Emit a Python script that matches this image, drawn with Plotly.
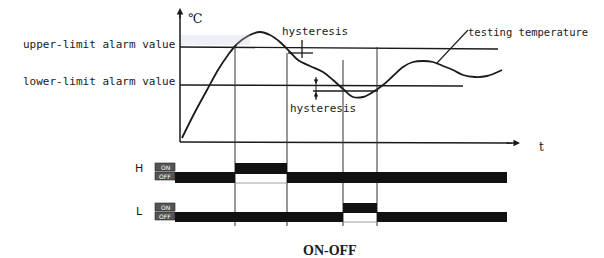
import plotly.graph_objects as go

# ---- data (diagram units: time ~ px across, temperature ~ px down) ----
curve_t = [182, 195, 207, 218, 228, 237, 248, 260, 270, 280, 290, 298, 310, 323, 333,
           343, 353, 363, 373, 383, 393, 403, 413, 423, 433, 443, 453, 463, 475, 487, 502]
curve_temp = [138, 112, 90, 70, 55, 44, 36, 32, 35, 42, 52, 60, 66, 72, 80,
              89, 97, 97, 92, 85, 76, 67, 62, 61, 62, 66, 70, 75, 77, 76, 70]
upper_limit = 47
upper_hyst = 53
lower_limit = 85
lower_hyst = 91
switch_times = [235, 287, 343, 377]
switch_tops = [47, 53, 60, 47]
h_states = [0, 1, 0]          # OFF, ON, OFF
h_edges = [175, 235, 287, 507]
l_states = [0, 1, 0]
l_edges = [175, 343, 377, 507]
left_labels = ["upper-limit alarm value", "lower-limit alarm value"]

INK = "#1a1a1a"
MONO = "DejaVu Sans Mono"

fig = go.Figure()
fig.add_trace(go.Scatter(x=curve_t, y=curve_temp, mode="lines",
                         line=dict(color=INK, width=1.8, shape="spline"),
                         hoverinfo="skip", showlegend=False))

shapes = []
def line(x0, y0, x1, y1, w=1.3, c=INK):
    shapes.append(dict(type="line", xref="x", yref="y", x0=x0, y0=y0, x1=x1, y1=y1,
                       line=dict(color=c, width=w)))

# faint scan shading near upper limit
shapes.append(dict(type="rect", xref="x", yref="y", x0=180, x1=250, y0=35, y1=45,
                   fillcolor="rgba(200,205,225,0.3)", line=dict(width=0)))

# axes
line(180, 142, 180, 14, 1.5)
line(180, 142, 512, 143, 1.5)
# limits
line(180, upper_limit, 498, upper_limit + 2)
line(288, upper_hyst, 313, upper_hyst)
line(180, lower_limit, 463, lower_limit + 1)
line(313, lower_hyst, 378, lower_hyst)
# hysteresis ticks
line(302, 40, 302, 58)
line(316, 77, 316, 100, 1.0)
# switching verticals
for t, top in zip(switch_times, switch_tops):
    line(t, top, t, 226, 1.0, "#333")
# leader for testing temperature
line(437, 63, 468, 30, 1.1)

# relay bars
def bars(edges, states, y_on, y_off, h):
    for i, s in enumerate(states):
        y0 = y_on if s else y_off
        shapes.append(dict(type="rect", xref="x", yref="y", x0=edges[i], x1=edges[i + 1],
                           y0=y0, y1=y0 + h, fillcolor="#111", line=dict(width=0)))
bars(h_edges, h_states, 163, 172, 11)
bars(l_edges, l_states, 203, 212, 10)
# thin outline under ON sections
line(235, 183, 287, 183, 0.8, "#888")
line(343, 222, 377, 222, 0.8, "#888")

# ON/OFF mini boxes
for ytop in (163, 203):
    for k, txt in enumerate(["ON", "OFF"]):
        y0 = ytop + k * 9
        shapes.append(dict(type="rect", xref="x", yref="y", x0=155, x1=175, y0=y0, y1=y0 + 8,
                           fillcolor="#555", line=dict(color="#222", width=0.6)))

annotations = []
def text(x, y, s, size=11, anchor="left", font=MONO, color=INK, bold=False):
    annotations.append(dict(x=x, y=y, xref="x", yref="y", text=f"<b>{s}</b>" if bold else s,
                            showarrow=False, xanchor=anchor, yanchor="middle",
                            font=dict(family=font, size=size, color=color)))

text(177, 44, left_labels[0], anchor="right")
text(177, 81, left_labels[1], anchor="right")
text(315, 31, "hysteresis", anchor="center")
text(323, 108, "hysteresis", anchor="center")
text(466, 32, "testing temperature", anchor="left", size=10.5)
text(186, 18, "℃", size=13, font="DejaVu Serif")
text(537, 147, "t", size=12, font="DejaVu Serif")
text(139, 168, "H", size=11, font="DejaVu Sans", anchor="center")
text(139, 211, "L", size=11, font="DejaVu Sans", anchor="center")
text(330, 250, "ON-OFF", size=14, font="Liberation Serif", anchor="center", bold=True)
for ytop in (163, 203):
    for k, txt in enumerate(["ON", "OFF"]):
        text(165, ytop + k * 9 + 4, txt, size=6, font="DejaVu Sans", anchor="center", color="white")

# arrowheads
def arrow(x, y, ax, ay, size=1.0):
    annotations.append(dict(x=x, y=y, ax=ax, ay=ay, xref="x", yref="y", axref="x", ayref="y",
                            showarrow=True, arrowhead=2, arrowsize=size, arrowwidth=1.3,
                            arrowcolor=INK, text=""))
arrow(180, 8, 180, 20)
arrow(520, 143, 505, 143)
arrow(316, 84, 316, 77, 0.7)
arrow(316, 92, 316, 100, 0.7)

# page body has an 8px margin: the figure covers window pixels 8..604 / 8..258
fig.update_layout(width=596, height=250, margin=dict(l=0, r=0, t=0, b=0),
                  paper_bgcolor="white", plot_bgcolor="white",
                  xaxis=dict(range=[8, 604], visible=False, fixedrange=True),
                  yaxis=dict(range=[258, 8], visible=False, fixedrange=True),
                  shapes=shapes, annotations=annotations, showlegend=False)
fig.write_html("out.html", config={"displayModeBar": False})
